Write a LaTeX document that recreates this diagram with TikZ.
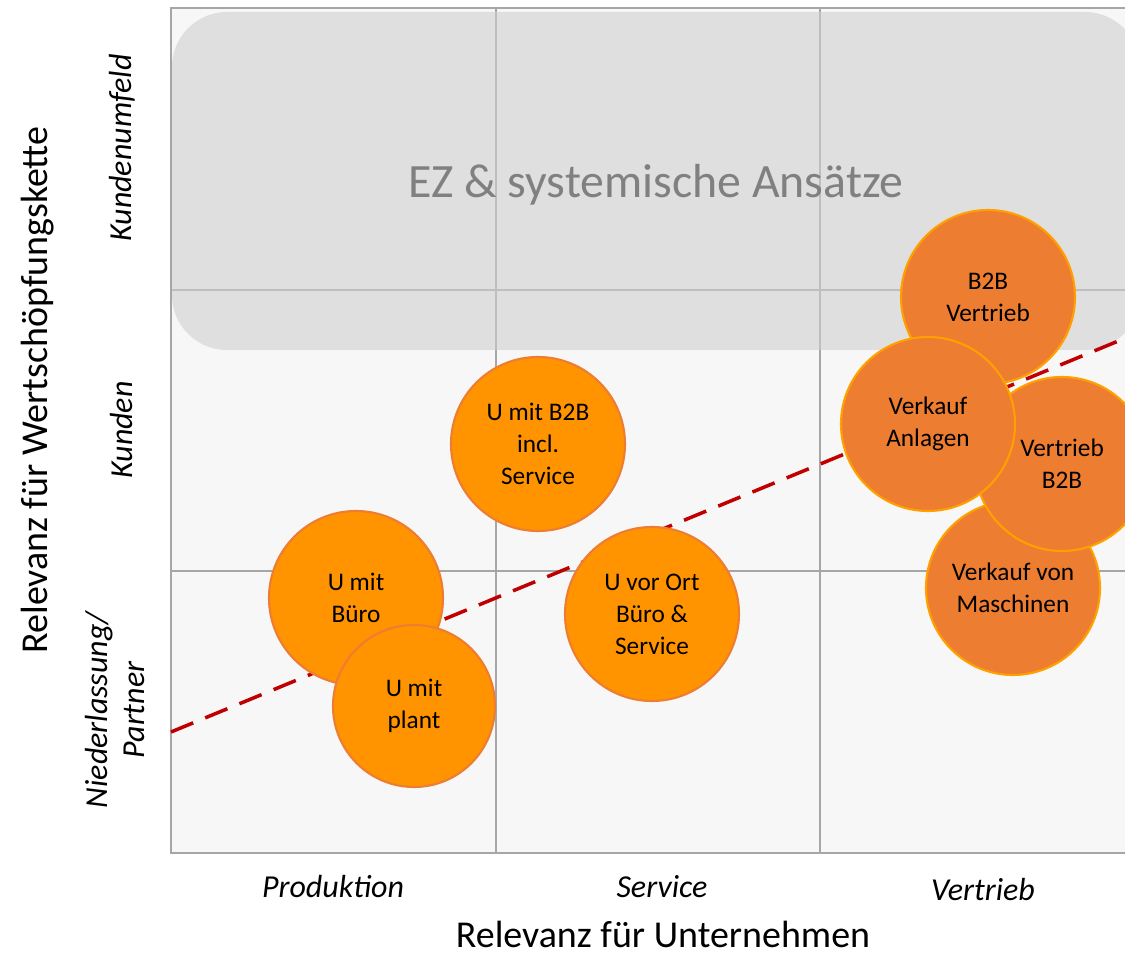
\documentclass[tikz,border=0pt]{standalone}
\usepackage{fontspec}
\setmainfont{Carlito}
\definecolor{plotbg}{HTML}{F7F7F7}
\definecolor{gridgray}{HTML}{A6A6A6}
\definecolor{ezfill}{HTML}{CFCFCF}
\definecolor{eztext}{HTML}{808080}
\definecolor{uorange}{HTML}{FF9300}
\definecolor{uedge}{HTML}{ED7D31}
\definecolor{vorange}{HTML}{ED7D31}
\definecolor{vedge}{HTML}{FFA000}
\definecolor{trendred}{HTML}{C00000}

\begin{document}
\begin{tikzpicture}[
  bubble/.style={circle, draw=uedge, fill=uorange, line width=0.6pt, minimum size=1.74cm,
    inner sep=0pt, align=center, font=\fontsize{7.2}{9.1}\selectfont},
  salesbubble/.style={bubble, draw=vedge, fill=vorange},
  category/.style={font=\fontsize{9.1}{10.8}\selectfont\itshape, align=center},
  axistitle/.style={font=\fontsize{10.8}{13}\selectfont},
  trend/.style={trendred, line width=1pt, dash pattern=on 0.24cm off 0.13cm}]
  \useasboundingbox (0,0) rectangle (11.25,9.75);
  \clip (0,0) rectangle (11.25,9.75);
  % 3x3 field
  \fill[plotbg] (1.71,1.22) rectangle (11.45,9.67);
  \foreach \i in {1,2} {
    \draw[gridgray, line width=0.6pt] (1.71+3.2467*\i,1.22) -- (1.71+3.2467*\i,9.67);
    \draw[gridgray, line width=0.6pt] (1.71,1.22+2.8167*\i) -- (11.45,1.22+2.8167*\i);
  }
  \draw[gridgray, line width=0.7pt] (1.71,1.22) rectangle (11.45,9.67);
  \node[fill=ezfill, fill opacity=0.6, text opacity=1, rounded corners=0.55cm, inner sep=0pt,
    minimum width=9.68cm, minimum height=3.38cm, text=eztext, text height=0.34cm, text depth=0pt,
    font=\fontsize{13.6}{16}\selectfont]
    (ez) at (6.56,7.94) {EZ \& systemische Ansätze};
%
  \coordinate (trendA) at (1.71,2.43);
  \coordinate (trendB) at (11.45,6.45);
  \draw[trend] (trendA) -- (trendB);
%
  \node[bubble] (buero) at (3.56,3.77) {U mit\\Büro};
  \node[bubble, minimum size=1.62cm] (plant) at (4.14,2.69) {U mit\\plant};
  \node[bubble] (bservice) at (5.38,5.31) {U mit B2B\\incl.\\Service};
  \node[bubble] (vorort) at (6.52,3.61) {U vor Ort\\Büro \&\\Service};
  \node[salesbubble] (maschinen) at (10.13,3.87) {Verkauf von\\Maschinen};
  \node[salesbubble] (vbtb) at (10.62,5.11) {Vertrieb\\B2B};
  \node[salesbubble] (btbv) at (9.88,6.78) {B2B\\Vertrieb};
  \node[salesbubble] (anlagen) at (9.28,5.51) {Verkauf\\Anlagen};
%
  \node[category, anchor=base] (prod) at (3.33,0.77) {Produktion};
  \node[category, anchor=base] (serv) at (6.62,0.77) {Service};
  \node[category, anchor=base] (vert) at (9.83,0.74) {Vertrieb};
  \node[axistitle, anchor=base] (xtitle) at (6.63,0.27) {Relevanz für Unternehmen};
%
  \node[category, rotate=90] (umfeld) at (1.22,8.27) {Kundenumfeld};
  \node[category, rotate=90] (kunden) at (1.22,5.45) {Kunden};
  \node[category, rotate=90] (partner) at (1.15,2.65) {Niederlassung/\\Partner};
  \node[axistitle, rotate=90] (ytitle) at (0.38,5.85) {Relevanz für Wertschöpfungskette};
\end{tikzpicture}
\end{document}
